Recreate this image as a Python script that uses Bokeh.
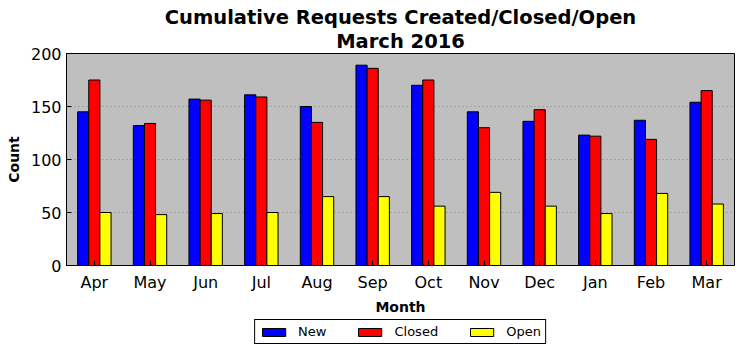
from bokeh.plotting import figure
from bokeh.models import (FactorRange, Range1d, Title, Legend, LegendItem,
                          FixedTicker, ColumnDataSource)
from bokeh.layouts import column
from bokeh.transform import dodge
from bokeh.embed import file_html
from bokeh.resources import INLINE

months = ["Apr", "May", "Jun", "Jul", "Aug", "Sep", "Oct", "Nov", "Dec", "Jan", "Feb", "Mar"]
new_vals = [145, 132, 157, 161, 150, 189, 170, 145, 136, 123, 137, 154]
closed_vals = [175, 134, 156, 159, 135, 186, 175, 130, 147, 122, 119, 165]
open_vals = [50, 48, 49, 50, 65, 65, 56, 69, 56, 49, 68, 58]
y_ticks = [0, 50, 100, 150, 200]

src = ColumnDataSource(dict(month=months, new=new_vals, closed=closed_vals, open=open_vals))

FONT = "DejaVu Sans"
COLORS = {"new": "#0000ff", "closed": "#ff0000", "open": "#ffff00"}
OFFS = {"new": -0.2, "closed": 0.0, "open": 0.2}

p = figure(width=735, height=317, x_range=FactorRange(*months), y_range=Range1d(0, 200),
           output_backend="svg", toolbar_location=None, title=None,
           min_border_left=66, min_border_right=1, min_border_top=53, min_border_bottom=52)
p.border_fill_color = "white"
p.background_fill_color = "#bfbfbf"
p.outline_line_color = "black"
p.outline_line_width = 1

for key in ("new", "closed", "open"):
    p.vbar(x=dodge("month", OFFS[key], range=p.x_range), top=key, width=0.2, source=src,
           fill_color=COLORS[key], line_color="black", line_width=1)

p.xgrid.grid_line_color = None
p.ygrid.grid_line_color = "#888888"
p.ygrid.grid_line_dash = "1 3"
p.ygrid.ticker = FixedTicker(ticks=y_ticks)

for ax in (p.xaxis[0], p.yaxis[0]):
    ax.major_tick_in = 5
    ax.major_tick_out = 0
    ax.minor_tick_line_color = None
    ax.axis_line_color = "black"
    ax.major_label_text_font = FONT
    ax.major_label_text_font_size = "16px"
    ax.major_label_text_color = "black"
    ax.axis_label_text_font = FONT
    ax.axis_label_text_font_size = "14px"
    ax.axis_label_text_font_style = "bold"
    ax.axis_label_text_color = "black"

p.yaxis[0].ticker = FixedTicker(ticks=y_ticks)
p.yaxis[0].axis_label = "Count"
p.yaxis[0].major_label_standoff = 5
p.yaxis[0].axis_label_standoff = 6
p.xaxis[0].axis_label = "Month"
p.xaxis[0].major_label_standoff = 7
p.xaxis[0].axis_label_standoff = 4

p.add_layout(Title(text="March 2016", align="center", text_font=FONT, text_font_size="19.5px",
                   text_font_style="bold", text_color="black", standoff=2), "above")
p.add_layout(Title(text="Cumulative Requests Created/Closed/Open", align="center", text_font=FONT,
                   text_font_size="19.5px", text_font_style="bold", text_color="black",
                   standoff=-4), "above")

# legend in its own strip below the chart
lg = figure(width=735, height=28, x_range=FactorRange(*months), y_range=Range1d(1000, 1001),
            output_backend="svg", toolbar_location=None, title=None,
            min_border=0, outline_line_color=None)
lg.border_fill_color = "white"
lg.axis.visible = False
lg.grid.visible = False
items = []
for key, label in (("new", "New"), ("closed", "Closed"), ("open", "Open")):
    r = lg.vbar(x=dodge("month", OFFS[key], range=lg.x_range), top=key, width=0.2, source=src,
                fill_color=COLORS[key], line_color="black", line_width=1)
    items.append(LegendItem(label=label, renderers=[r]))
legend = Legend(items=items, orientation="horizontal", location="bottom_center",
                border_line_color="black", border_line_width=1, border_line_alpha=1,
                background_fill_color="white", background_fill_alpha=1,
                label_text_font=FONT, label_text_font_size="13px", label_text_color="black",
                glyph_width=29, glyph_height=10, label_standoff=10, spacing=29,
                padding=4, margin=1)
lg.add_layout(legend, "center")

layout = column(p, lg, spacing=0)
open("out.html", "w").write(file_html(layout, INLINE))
